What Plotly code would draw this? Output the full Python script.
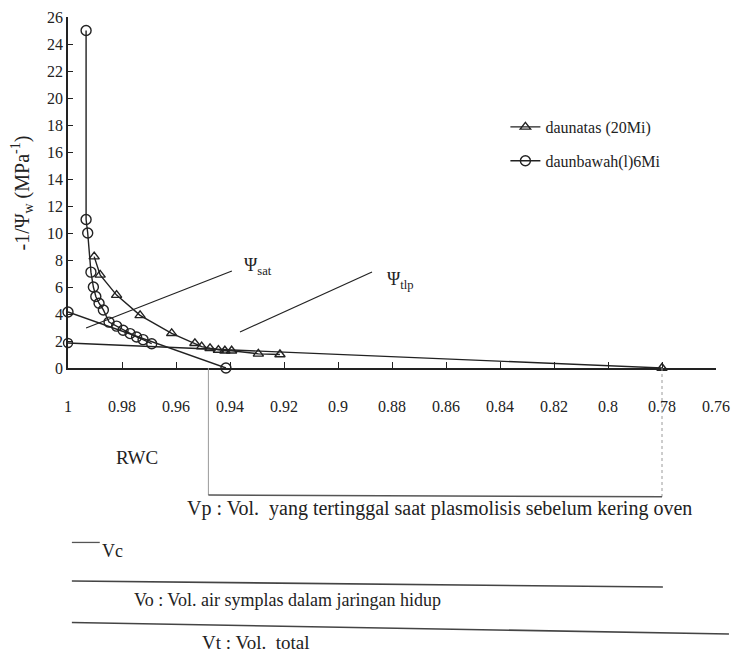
import plotly.graph_objects as go

# ---- data ----
tri_rwc = [0.9903, 0.9881, 0.9820, 0.9733, 0.9616, 0.9530, 0.9505, 0.9474, 0.9443, 0.9419, 0.9394, 0.9295, 0.9215]
tri_val = [8.25, 6.9, 5.4, 3.9, 2.57, 1.83, 1.58, 1.46, 1.33, 1.28, 1.28, 1.05, 1.0]

circ_rwc = [0.9933, 0.9933, 0.9927, 0.9915, 0.9906, 0.9897, 0.9885, 0.9869, 0.9848, 0.9820, 0.9796, 0.9770, 0.9746, 0.9722, 0.9690]
circ_val = [25.0, 11.0, 10.0, 7.1, 6.0, 5.3, 4.8, 4.3, 3.4, 3.1, 2.8, 2.55, 2.3, 2.1, 1.8]

circ_ext_rwc = [1.0, 0.9415]
circ_ext_val = [4.15, 0.0]
tri_ext_rwc = [1.0, 0.78]
tri_ext_val = [1.85, 0.0]

x_ticks = [1.0, 0.98, 0.96, 0.94, 0.92, 0.90, 0.88, 0.86, 0.84, 0.82, 0.80, 0.78, 0.76]
x_labels = ["1", "0.98", "0.96", "0.94", "0.92", "0.9", "0.88", "0.86", "0.84", "0.82", "0.8", "0.78", "0.76"]
y_ticks = list(range(0, 27, 2))

name_tri = "daunatas (20Mi)"
name_circ = "daunbawah(l)6Mi"

SERIF = "Liberation Serif, Times New Roman, serif"
BLACK = "#222222"

fig = go.Figure()

fig.add_trace(go.Scatter(
    x=tri_ext_rwc, y=tri_ext_val, mode="lines+markers", showlegend=False,
    line=dict(color=BLACK, width=1.4),
    marker=dict(symbol=["circle-open", "triangle-up-open"], size=9, color=BLACK, line=dict(width=1.4)),
    cliponaxis=False,
))
fig.add_trace(go.Scatter(
    x=circ_ext_rwc, y=circ_ext_val, mode="lines+markers", showlegend=False,
    line=dict(color=BLACK, width=1.4),
    marker=dict(symbol="circle-open", size=10, color=BLACK, line=dict(width=1.4)),
    cliponaxis=False,
))
fig.add_trace(go.Scatter(
    x=tri_rwc, y=tri_val, mode="lines+markers", name=name_tri, legendgroup="a",
    line=dict(color=BLACK, width=1.4),
    marker=dict(symbol="triangle-up-open", size=9, color=BLACK, line=dict(width=1.4)),
    cliponaxis=False,
))
fig.add_trace(go.Scatter(
    x=circ_rwc, y=circ_val, mode="lines+markers", name=name_circ, legendgroup="b",
    line=dict(color=BLACK, width=1.4),
    marker=dict(symbol="circle-open", size=10, color=BLACK, line=dict(width=1.4)),
    cliponaxis=False,
))

# pointer lines for the Psi labels
fig.add_shape(type="line", xref="x", yref="y", x0=0.9933, y0=2.96, x1=0.9393, y1=7.19,
              line=dict(color=BLACK, width=1.2))
fig.add_shape(type="line", xref="x", yref="y", x0=0.9363, y0=2.67, x1=0.8874, y1=7.11,
              line=dict(color=BLACK, width=1.2))

# bracket under the axis (Vp)
fig.add_shape(type="line", xref="x", yref="paper", x0=0.948, x1=0.948, y0=0, y1=-0.362,
              line=dict(color="#9a9a9a", width=1))
fig.add_shape(type="line", xref="x", yref="paper", x0=0.78, x1=0.78, y0=0, y1=-0.367,
              line=dict(color="#9a9a9a", width=1, dash="dot"))
fig.add_shape(type="line", xref="x", yref="paper", x0=0.948, x1=0.78, y0=-0.362, y1=-0.367,
              line=dict(color="#555555", width=1.5))
# Vc / Vo / Vt lines
fig.add_shape(type="line", xref="paper", yref="paper", x0=0.006, x1=0.049, y0=-0.497, y1=-0.497,
              line=dict(color="#555555", width=1.3))
fig.add_shape(type="line", xref="paper", yref="paper", x0=0.006, x1=0.918, y0=-0.607, y1=-0.624,
              line=dict(color="#444444", width=1.6))
fig.add_shape(type="line", xref="paper", yref="paper", x0=0.006, x1=1.02, y0=-0.725, y1=-0.758,
              line=dict(color="#444444", width=1.6))

ann = [
    dict(text="-1/Ψ<sub>w</sub> (MPa<sup>-1</sup>)", x=-0.071, y=0.50, textangle=-90, size=20),
    dict(text="Ψ<sub>sat</sub>", x=0.268, y=0.29, xanchor="left", size=18),
    dict(text="Ψ<sub>tlp</sub>", x=0.489, y=0.25, xanchor="left", size=18),
    dict(text="RWC", x=0.106, y=-0.256, size=19),
    dict(text="Vp : Vol.  yang tertinggal saat plasmolisis sebelum kering oven", x=0.181, y=-0.400, xanchor="left", size=20),
    dict(text="Vc", x=0.050, y=-0.521, xanchor="left", size=18),
    dict(text="Vo : Vol. air symplas dalam jaringan hidup", x=0.099, y=-0.660, xanchor="left", size=18),
    dict(text="Vt : Vol.  total", x=0.203, y=-0.781, xanchor="left", size=19),
]
for a in ann:
    fig.add_annotation(text=a["text"], x=a["x"], y=a["y"], xref="paper", yref="paper",
                       xanchor=a.get("xanchor", "center"), yanchor="middle",
                       textangle=a.get("textangle", 0), showarrow=False,
                       font=dict(family=SERIF, size=a["size"], color=BLACK))

fig.update_layout(
    width=734, height=659,
    margin=dict(l=68, r=18, t=17, b=291, autoexpand=False),
    paper_bgcolor="white", plot_bgcolor="white",
    font=dict(family=SERIF, color=BLACK),
    legend=dict(x=0.675, y=0.735, xanchor="left", yanchor="top", bgcolor="rgba(0,0,0,0)",
                font=dict(family=SERIF, size=16, color=BLACK), traceorder="grouped",
                tracegroupgap=10),
    xaxis=dict(range=[1.0, 0.76], tickvals=x_ticks, ticktext=x_labels, showgrid=False,
               zeroline=False, showline=True, linecolor=BLACK, linewidth=1.5,
               ticks="inside", ticklen=6, tickcolor=BLACK, tickwidth=1.2,
               ticklabelstandoff=23, tickfont=dict(family=SERIF, size=16, color=BLACK)),
    yaxis=dict(range=[0, 26], tickvals=y_ticks, showgrid=False, zeroline=False,
               showline=True, linecolor=BLACK, linewidth=1.5,
               ticks="inside", ticklen=5, tickcolor=BLACK, tickwidth=1.2,
               tickfont=dict(family=SERIF, size=16, color=BLACK)),
)

fig.write_html("out.html", config={"displayModeBar": False},
               post_script="document.body.style.margin='0';document.body.style.overflow='hidden';")
